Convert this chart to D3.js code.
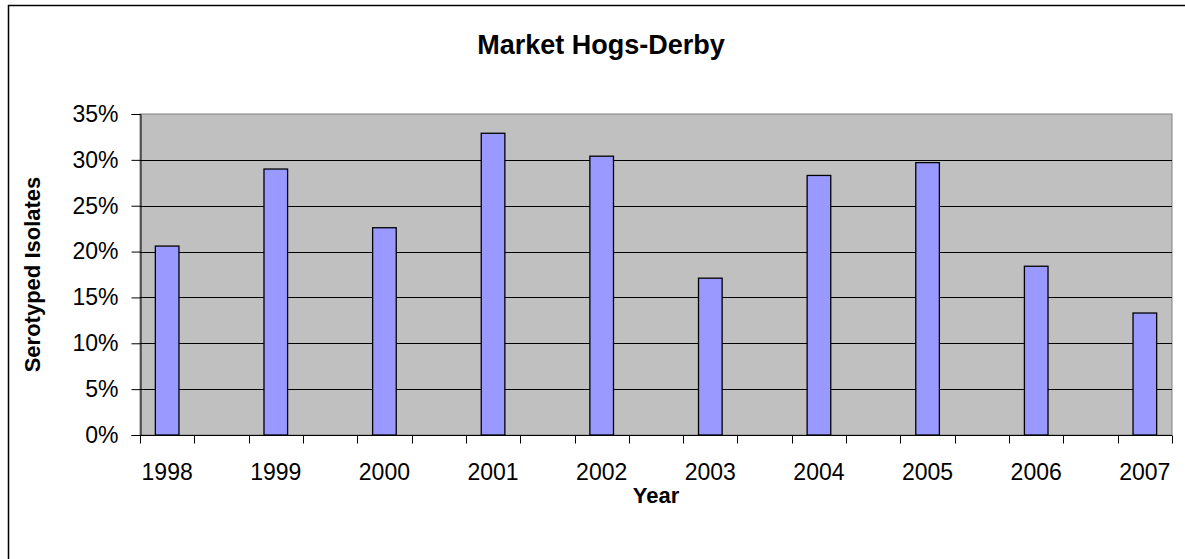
<!DOCTYPE html>
<html>

<head>
    <style type="text/css">
    html,
    body {
        margin: 0px;
        padding: 0px;
        background: #fff;
        font-family: 'Liberation Sans', Arial, sans-serif;
    }

    .grid line {
        stroke: #000;
        stroke-width: 1px;
    }

    .bar {
        fill: #9999ff;
        stroke: #000;
        stroke-width: 1.3px;
    }

    .tick text {
        font-size: 23px;
        fill: #000;
    }
    </style>
    <script src="https://d3js.org/d3.v7.min.js"></script>
    <title>Market Hogs-Derby</title>
</head>

<body>
</body>
<script type="text/javascript">
// data
var years = ["1998", "1999", "2000", "2001", "2002", "2003", "2004", "2005", "2006", "2007"];
var shares = [20.6, 29.0, 22.6, 32.9, 30.4, 17.1, 28.3, 29.7, 18.4, 13.3];
var yTicks = [0, 5, 10, 15, 20, 25, 30, 35];

var width = 1185;
var height = 559;

// plot area
var plot = { left: 140, top: 114, right: 1172, bottom: 435 };

var svg = d3.select("body")
    .append("svg")
    .attr("width", width)
    .attr("height", height);

// outer chart border (runs off the right and bottom of the picture)
svg.append("rect")
    .attr("x", 8.5)
    .attr("y", 5.5)
    .attr("width", width + 20)
    .attr("height", height + 20)
    .attr("fill", "#fff")
    .attr("stroke", "#000")
    .attr("stroke-width", 1.5);

// every year is followed by an empty slot, except the last
var slots = d3.range(years.length * 2 - 1);

var x = d3.scaleBand()
    .domain(slots)
    .range([plot.left, plot.right])
    .paddingInner(0)
    .paddingOuter(0);

var y = d3.scaleLinear()
    .domain([0, 35])
    .range([plot.bottom, plot.top]);

// grey plot background
svg.append("rect")
    .attr("x", plot.left)
    .attr("y", plot.top)
    .attr("width", plot.right - plot.left)
    .attr("height", plot.bottom - plot.top)
    .attr("fill", "#c0c0c0")
    .attr("stroke", "#808080")
    .attr("stroke-width", 1);

// horizontal gridlines
svg.append("g")
    .attr("class", "grid")
    .selectAll("line")
    .data(yTicks.filter(function(d) { return d > 0 && d < 35; }))
    .enter()
    .append("line")
    .attr("x1", plot.left)
    .attr("x2", plot.right)
    .attr("y1", function(d) { return Math.round(y(d)) + 0.5; })
    .attr("y2", function(d) { return Math.round(y(d)) + 0.5; });

// bars, 130% gap width like excel
var barWidth = x.bandwidth() / 2.3;
svg.append("g")
    .selectAll(".bar")
    .data(shares)
    .enter()
    .append("rect")
    .attr("class", "bar")
    .attr("x", function(d, i) { return x(i * 2) + (x.bandwidth() - barWidth) / 2; })
    .attr("width", barWidth)
    .attr("y", function(d) { return y(d); })
    .attr("height", function(d) { return y(0) - y(d); });

// y axis
var yAxis = svg.append("g")
    .attr("transform", "translate(" + (plot.left + 0.5) + ",0)")
    .call(d3.axisLeft(y)
        .tickValues(yTicks)
        .tickSize(9)
        .tickPadding(13)
        .tickFormat(function(d) { return d + "%"; }));
yAxis.select(".domain").attr("stroke", "#000");
yAxis.selectAll(".tick line").attr("stroke", "#000");
yAxis.selectAll(".tick text").attr("font-family", "'Liberation Sans', Arial, sans-serif");

// x axis: tick marks sit between the slots
var xAxis = svg.append("g")
    .attr("transform", "translate(0," + (plot.bottom + 0.5) + ")");
xAxis.append("line")
    .attr("x1", plot.left)
    .attr("x2", plot.right)
    .attr("stroke", "#000");
xAxis.selectAll(".xtick")
    .data(d3.range(slots.length + 1))
    .enter()
    .append("line")
    .attr("class", "xtick")
    .attr("x1", function(d) { return Math.round(plot.left + d * x.step()) + 0.5; })
    .attr("x2", function(d) { return Math.round(plot.left + d * x.step()) + 0.5; })
    .attr("y1", 0)
    .attr("y2", 8)
    .attr("stroke", "#000");
xAxis.selectAll(".xlabel")
    .data(years)
    .enter()
    .append("text")
    .attr("class", "xlabel")
    .attr("x", function(d, i) { return x(i * 2) + x.bandwidth() / 2; })
    .attr("y", 44)
    .attr("text-anchor", "middle")
    .attr("font-size", 23)
    .text(function(d) { return d; });

// titles
svg.append("text")
    .attr("x", 601)
    .attr("y", 54)
    .attr("text-anchor", "middle")
    .attr("font-size", 27)
    .attr("font-weight", "bold")
    .text("Market Hogs-Derby");

svg.append("text")
    .attr("x", (plot.left + plot.right) / 2)
    .attr("y", 503)
    .attr("text-anchor", "middle")
    .attr("font-size", 22)
    .attr("font-weight", "bold")
    .text("Year");

svg.append("text")
    .attr("transform", "translate(40," + ((plot.top + plot.bottom) / 2) + ") rotate(-90)")
    .attr("text-anchor", "middle")
    .attr("font-size", 22)
    .attr("font-weight", "bold")
    .text("Serotyped Isolates");
</script>

</html>
